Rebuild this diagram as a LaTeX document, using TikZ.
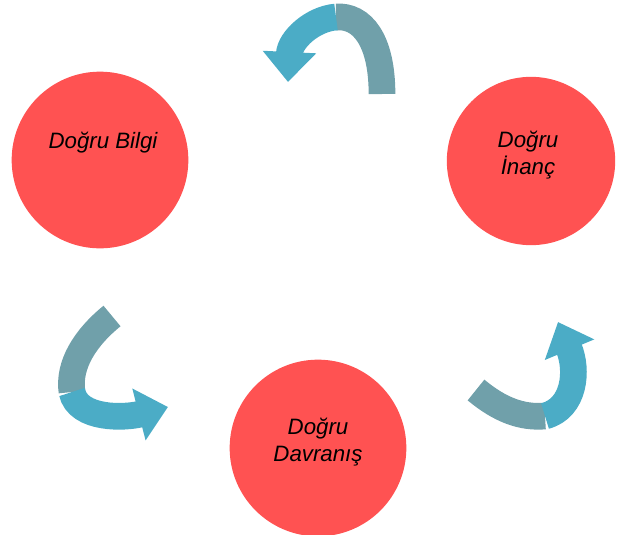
\documentclass[tikz,border=0pt]{standalone}
\usepackage{fontspec}
\setmainfont{Liberation Sans}
\usetikzlibrary{arrows.meta, positioning}
\definecolor{circred}{RGB}{255,82,82}
\definecolor{bandlight}{RGB}{75,172,198}
\definecolor{banddark}{RGB}{112,160,170}
\tikzset{
	x=0.03cm, y=-0.03cm,
	circ/.style={circle, fill=circred, minimum size=5.3cm, inner sep=0pt},
	lbl/.style={font=\fontsize{19}{23}\selectfont\itshape, align=center},
	darkband/.style={draw=banddark, line width=0.8cm, line cap=butt},
	lightband/.style={draw=bandlight, line width=0.8cm, line cap=butt,
		-{Triangle[width=1.55cm, length=0.9cm]}}}

\begin{document}
\begin{tikzpicture}
	\useasboundingbox (0,0) rectangle (619,535);

	\node[circ] (bilgi) at (100,160) {};
	\node[circ, minimum size=5.05cm] (inanc) at (531,161) {};
	\node[circ] (davranis) at (318,448) {};

	\node[lbl] (tbilgi) at (103,143) {Doğru Bilgi};
	\node[lbl] (tinanc) at (528,155) {Doğru\\İnanç};
	\node[lbl] (tdavranis) at (318,442) {Doğru\\Davranış};

	% top arrow
	\coordinate (a1) at (382,94);
	\coordinate (a2) at (336,17);
	\coordinate (a3) at (288,82);
	\draw[darkband] (a1) .. controls (382,40) and (362,15) .. (a2);
	\draw[lightband] (a2) .. controls (312,19) and (290,40) .. (a3);

	% left arrow
	\coordinate (b1) at (112,316);
	\coordinate (b2) at (72,392);
	\coordinate (b3) at (168,407);
	\draw[darkband] (b1) .. controls (85,338) and (68,365) .. (b2);
	\draw[lightband] (b2) .. controls (78,420) and (125,418) .. (b3);

	% right arrow
	\coordinate (c1) at (476,390);
	\coordinate (c2) at (545,416);
	\coordinate (c3) at (558,322);
	\draw[darkband] (c1) .. controls (500,410) and (522,418) .. (c2);
	\draw[lightband] (c2) .. controls (575,408) and (578,370) .. (c3);

\end{tikzpicture}
\end{document}
